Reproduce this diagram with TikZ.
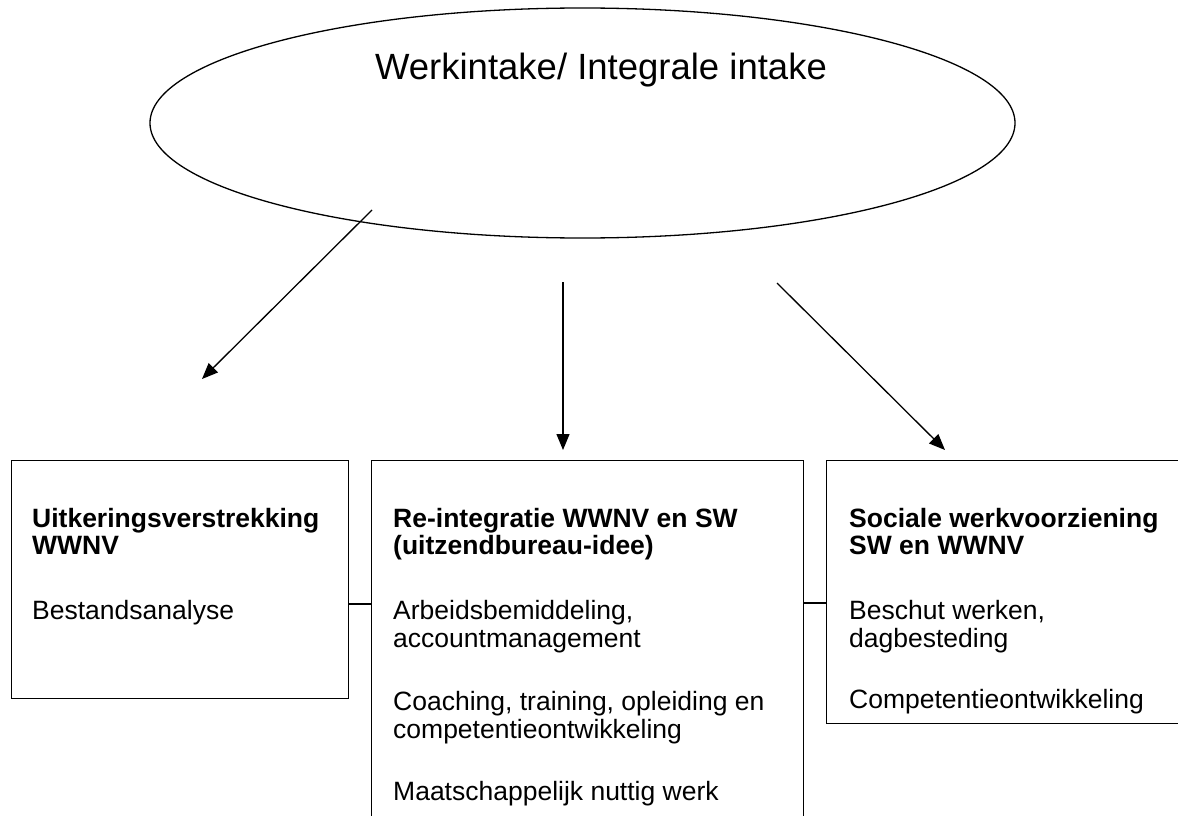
\documentclass[tikz,border=0pt]{standalone}
\usepackage{fontspec}
\setmainfont{Liberation Sans}
\usetikzlibrary{arrows.meta,shapes.geometric}
\begin{document}
\begin{tikzpicture}[x=1pt,y=-1pt,
  box/.style={draw, line width=1.3pt, inner sep=0pt, anchor=north west},
  arr/.style={line width=1.3pt, -{Triangle[length=16pt,width=13pt]}},
  link/.style={line width=1.3pt},
  txt/.style={anchor=base west, inner sep=0pt, font=\fontsize{26.5}{27.5}\selectfont},
  hd/.style={anchor=base west, inner sep=0pt, font=\fontsize{26.5}{27.5}\selectfont\bfseries}]
\useasboundingbox (0,0) rectangle (1178,816);
\clip (0,0) rectangle (1178,816);
\fill[white] (0,0) rectangle (1178,816);
% ellipse
\node[draw, ellipse, line width=1.3pt, inner sep=0pt, minimum width=865pt, minimum height=230pt] (ell) at (582.5,123) {};
\node[anchor=base, inner sep=0pt, font=\fontsize{36.5}{40}\selectfont] (title) at (601,80) {Werkintake/ Integrale intake};
% boxes
\node[box, minimum width=337pt, minimum height=238pt] (lbox) at (11,460) {};
\node[box, minimum width=432pt, minimum height=370pt] (mbox) at (371,460) {};
\node[box, minimum width=359pt, minimum height=263pt] (rbox) at (826,460) {};
% arrows
\coordinate (a1s) at (372,210); \coordinate (a1e) at (202,379);
\coordinate (a2s) at (563,282); \coordinate (a2e) at (563,450);
\coordinate (a3s) at (777,283); \coordinate (a3e) at (945,450);
\draw[arr] (a1s) -- (a1e);
\draw[arr] (a2s) -- (a2e);
\draw[arr] (a3s) -- (a3e);
% links
\coordinate (y1) at (0,604);
\coordinate (y2) at (0,603);
\draw[link] (lbox.east |- y1) -- (mbox.west |- y1);
\draw[link] (mbox.east |- y2) -- (rbox.west |- y2);
% left texts
\node[hd] (l1) at (32,527) {Uitkeringsverstrekking};
\node[hd] (l2) at (32,554) {WWNV};
\node[txt] (l3) at (32,619) {Bestandsanalyse};
% middle texts
\node[hd] (m1) at (393,527) {Re-integratie WWNV en SW};
\node[hd] (m2) at (393,554) {(uitzendbureau-idee)};
\node[txt] (m3) at (393,619) {Arbeidsbemiddeling,};
\node[txt] (m4) at (393,647) {accountmanagement};
\node[txt] (m5) at (393,710) {Coaching, training, opleiding en};
\node[txt] (m6) at (393,738) {competentieontwikkeling};
\node[txt] (m7) at (393,800) {Maatschappelijk nuttig werk};
% right texts
\node[hd] (r1) at (849,527) {Sociale werkvoorziening};
\node[hd] (r2) at (849,554) {SW en WWNV};
\node[txt] (r3) at (849,619) {Beschut werken,};
\node[txt] (r4) at (849,647) {dagbesteding};
\node[txt] (r5) at (849,708) {Competentieontwikkeling};
\end{tikzpicture}
\end{document}
